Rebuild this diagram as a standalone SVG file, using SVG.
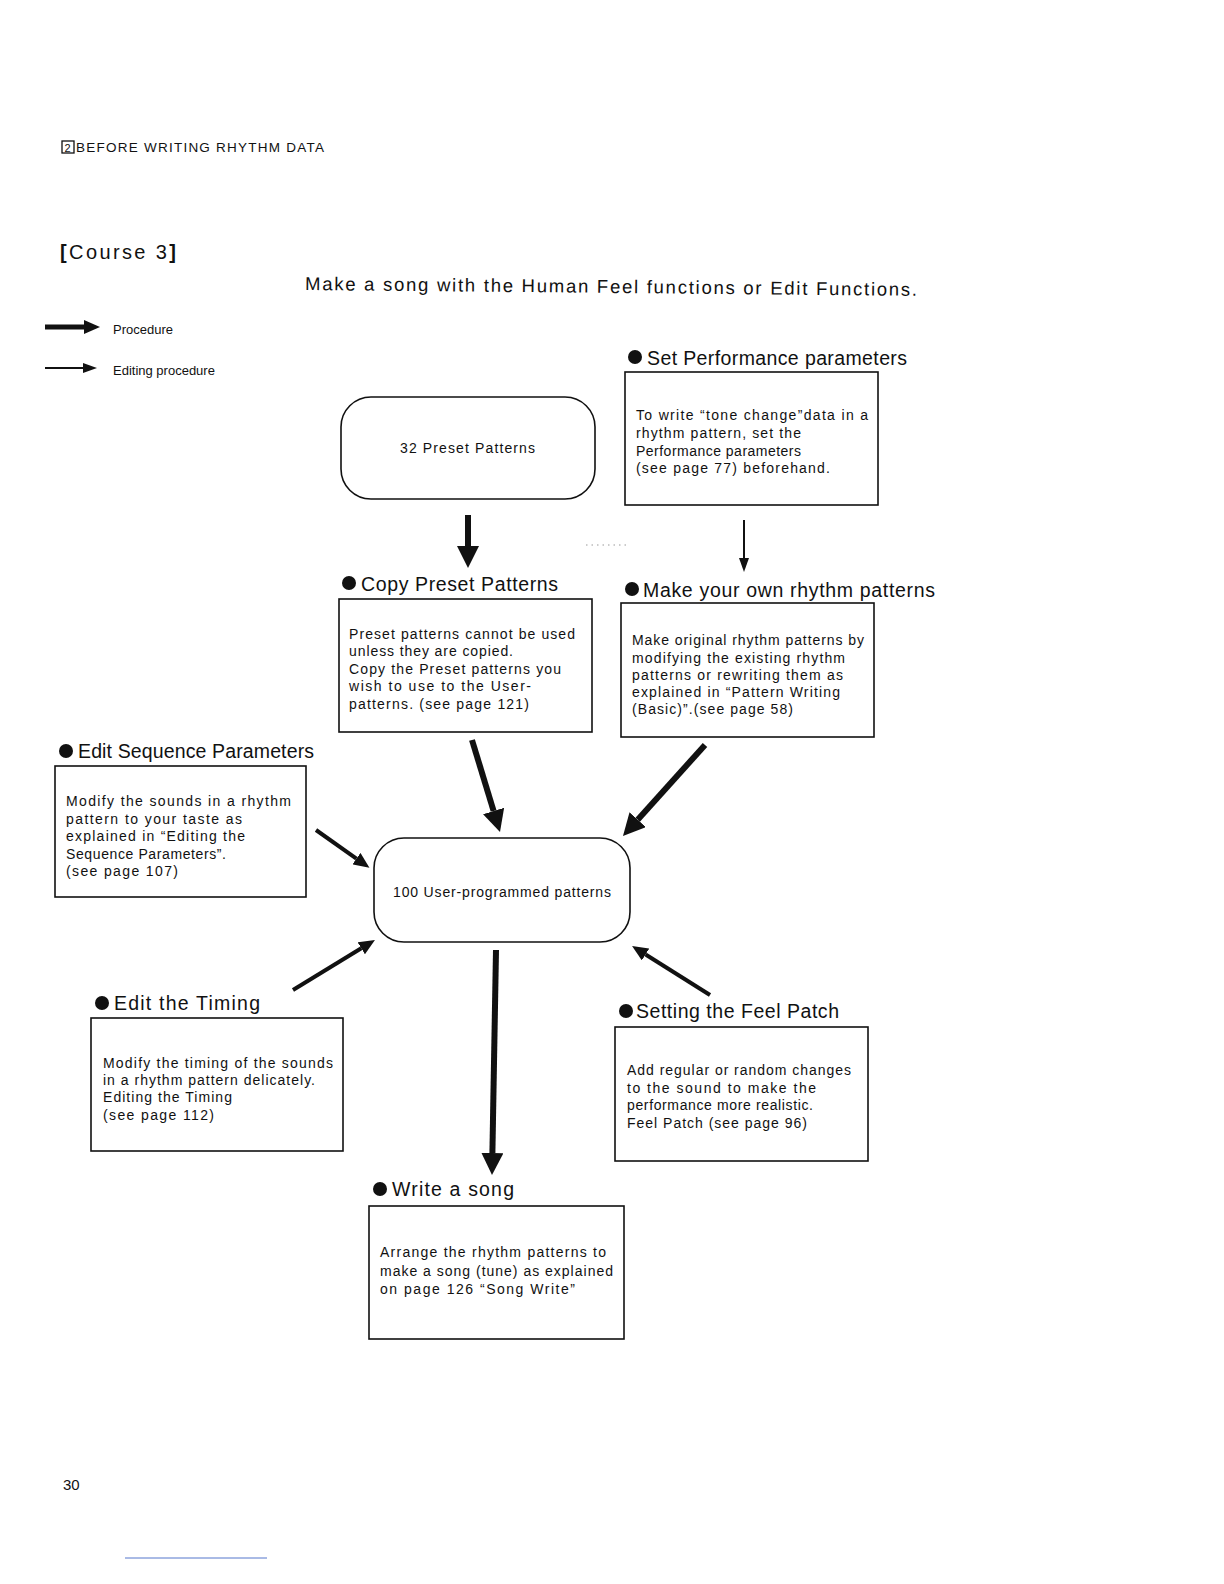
<svg xmlns="http://www.w3.org/2000/svg" width="1224" height="1584" viewBox="0 0 1224 1584">
<style>
text{font-family:"Liberation Sans","DejaVu Sans",sans-serif;fill:#111}
.h{font-size:19.5px}
.b{font-size:14px}
.box{fill:none;stroke:#111;stroke-width:1.6}
.node{fill:#fff;stroke:#111;stroke-width:1.6}
.thick{stroke:#111;stroke-width:6;fill:none}
.med{stroke:#111;stroke-width:4;fill:none}
.thin{stroke:#111;stroke-width:2;fill:none}
</style>
<defs>
<marker id="hL" markerUnits="userSpaceOnUse" viewBox="0 0 22 22" markerWidth="22" markerHeight="22" refX="0" refY="11" orient="auto"><path d="M0,0 L22,11 L0,22 z" fill="#111"/></marker>
<marker id="hM" markerUnits="userSpaceOnUse" viewBox="0 0 16 14" markerWidth="16" markerHeight="14" refX="0" refY="7" orient="auto"><path d="M0,0 L16,7 L0,14 z" fill="#111"/></marker>
<marker id="hS" markerUnits="userSpaceOnUse" viewBox="0 0 14 10" markerWidth="14" markerHeight="10" refX="0" refY="5" orient="auto"><path d="M0,0 L14,5 L0,10 z" fill="#111"/></marker>
</defs>
<rect width="1224" height="1584" fill="#fff"/>

<g id="header">
<rect x="62" y="141" width="12" height="12" fill="none" stroke="#111" stroke-width="1.3"/>
<text x="64.5" y="151.5" style="font-size:11px">2</text>
<text x="76" y="152" style="font-size:13.5px" textLength="248" lengthAdjust="spacing">BEFORE WRITING RHYTHM DATA</text>
<text x="60" y="259" style="font-size:20px" textLength="116" lengthAdjust="spacing"><tspan font-weight="bold">[</tspan>Course 3<tspan font-weight="bold">]</tspan></text>
<text x="305" y="290" style="font-size:18.5px" textLength="612" lengthAdjust="spacing" transform="rotate(0.55 305 290)">Make a song with the Human Feel functions or Edit Functions.</text>
</g>

<g id="legend">
<path class="thick" d="M45,327 L84,327" marker-end="url(#hM)" style="stroke-width:5"/>
<text x="113" y="334" style="font-size:13px">Procedure</text>
<path class="thin" d="M45,368 L83,368" marker-end="url(#hS)"/>
<text x="113" y="375" style="font-size:13px">Editing procedure</text>
</g>

<g id="connectors">
<path class="thick" d="M468,515 L468,546" marker-end="url(#hL)"/>
<path class="thin" d="M744,520 L744,558" marker-end="url(#hS)"/>
<path class="thick" d="M472,740 L493.6,811" marker-end="url(#hL)"/>
<path class="thick" d="M705,745 L637.7,819.7" marker-end="url(#hL)"/>
<path class="med" d="M316,830 L356.4,858.6" marker-end="url(#hM)"/>
<path class="med" d="M293,990 L361.3,948.3" marker-end="url(#hM)"/>
<path class="med" d="M710,995 L645.6,954.5" marker-end="url(#hM)"/>
<path class="thick" d="M496,950 L492.4,1153" marker-end="url(#hL)"/>
<path d="M586,545 L626,545" stroke="#999" stroke-width="1" stroke-dasharray="1.5,4"/>
</g>

<g id="preset">
<rect class="node" x="341" y="397" width="254" height="102" rx="30"/>
<text x="400" y="453" class="b" textLength="135" lengthAdjust="spacing">32 Preset Patterns</text>
</g>

<g id="perf">
<circle cx="635" cy="357" r="7" fill="#111"/>
<text x="647" y="365" class="h" textLength="260" lengthAdjust="spacing">Set Performance parameters</text>
<rect class="box" x="625" y="372" width="253" height="133"/>
<text x="636" y="420" class="b" textLength="232" lengthAdjust="spacing">To write  “tone change”data in a</text>
<text x="636" y="438" class="b" textLength="165" lengthAdjust="spacing">rhythm pattern, set the</text>
<text x="636" y="456" class="b" textLength="165" lengthAdjust="spacing">Performance parameters</text>
<text x="636" y="473" class="b" textLength="194" lengthAdjust="spacing">(see page 77)  beforehand.</text>
</g>

<g id="copy">
<circle cx="349" cy="583" r="7" fill="#111"/>
<text x="361" y="591" class="h" textLength="197" lengthAdjust="spacing">Copy Preset Patterns</text>
<rect class="box" x="339" y="599" width="253" height="133"/>
<text x="349" y="639" class="b" textLength="226" lengthAdjust="spacing">Preset patterns cannot be used</text>
<text x="349" y="656" class="b" textLength="164" lengthAdjust="spacing">unless they are copied.</text>
<text x="349" y="674" class="b" textLength="212" lengthAdjust="spacing">Copy the Preset patterns you</text>
<text x="349" y="691" class="b" textLength="182" lengthAdjust="spacing">wish to use to the User-</text>
<text x="349" y="709" class="b" textLength="180" lengthAdjust="spacing">patterns. (see page 121)</text>
</g>

<g id="own">
<circle cx="632" cy="589" r="7" fill="#111"/>
<text x="643" y="597" class="h" textLength="292" lengthAdjust="spacing">Make your own rhythm patterns</text>
<rect class="box" x="621" y="603" width="253" height="134"/>
<text x="632" y="645" class="b" textLength="232" lengthAdjust="spacing">Make original rhythm patterns by</text>
<text x="632" y="663" class="b" textLength="213" lengthAdjust="spacing">modifying the existing rhythm</text>
<text x="632" y="680" class="b" textLength="211" lengthAdjust="spacing">patterns or rewriting them as</text>
<text x="632" y="697" class="b" textLength="208" lengthAdjust="spacing">explained in  “Pattern Writing</text>
<text x="632" y="714" class="b" textLength="161" lengthAdjust="spacing">(Basic)”.(see page 58)</text>
</g>

<g id="seq">
<circle cx="66" cy="751" r="7" fill="#111"/>
<text x="78" y="758" class="h" textLength="236" lengthAdjust="spacing">Edit Sequence Parameters</text>
<rect class="box" x="55" y="766" width="251" height="131"/>
<text x="66" y="806" class="b" textLength="225" lengthAdjust="spacing">Modify the sounds in a rhythm</text>
<text x="66" y="824" class="b" textLength="176" lengthAdjust="spacing">pattern to your taste as</text>
<text x="66" y="841" class="b" textLength="179" lengthAdjust="spacing">explained in  “Editing the</text>
<text x="66" y="859" class="b" textLength="160" lengthAdjust="spacing">Sequence Parameters”.</text>
<text x="66" y="876" class="b" textLength="112" lengthAdjust="spacing">(see page 107)</text>
</g>

<g id="user">
<rect class="node" x="374" y="838" width="256" height="104" rx="30"/>
<text x="393" y="897" class="b" textLength="218" lengthAdjust="spacing">100 User-programmed patterns</text>
</g>

<g id="timing">
<circle cx="102" cy="1003" r="7" fill="#111"/>
<text x="114" y="1010" class="h" textLength="146" lengthAdjust="spacing">Edit the Timing</text>
<rect class="box" x="91" y="1018" width="252" height="133"/>
<text x="103" y="1068" class="b" textLength="230" lengthAdjust="spacing">Modify the timing of the sounds</text>
<text x="103" y="1085" class="b" textLength="212" lengthAdjust="spacing">in a rhythm pattern delicately.</text>
<text x="103" y="1102" class="b" textLength="129" lengthAdjust="spacing">Editing the Timing</text>
<text x="103" y="1120" class="b" textLength="111" lengthAdjust="spacing">(see page 112)</text>
</g>

<g id="feel">
<circle cx="626" cy="1011" r="7" fill="#111"/>
<text x="636" y="1018" class="h" textLength="203" lengthAdjust="spacing">Setting the Feel Patch</text>
<rect class="box" x="615" y="1027" width="253" height="134"/>
<text x="627" y="1075" class="b" textLength="224" lengthAdjust="spacing">Add regular or random changes</text>
<text x="627" y="1093" class="b" textLength="189" lengthAdjust="spacing">to the sound to make the</text>
<text x="627" y="1110" class="b" textLength="186" lengthAdjust="spacing">performance more realistic.</text>
<text x="627" y="1128" class="b" textLength="180" lengthAdjust="spacing">Feel Patch (see page 96)</text>
</g>

<g id="song">
<circle cx="380" cy="1189" r="7" fill="#111"/>
<text x="392" y="1196" class="h" textLength="122" lengthAdjust="spacing">Write a song</text>
<rect class="box" x="369" y="1206" width="255" height="133"/>
<text x="380" y="1257" class="b" textLength="226" lengthAdjust="spacing">Arrange the rhythm patterns to</text>
<text x="380" y="1276" class="b" textLength="233" lengthAdjust="spacing">make a song (tune)  as explained</text>
<text x="380" y="1294" class="b" textLength="195" lengthAdjust="spacing">on page 126  “Song Write”</text>
</g>

<g id="footer">
<text x="63" y="1490" style="font-size:15px">30</text>
<line x1="125" y1="1558" x2="267" y2="1558" stroke="#5577cc" stroke-width="1"/>
</g>
</svg>
